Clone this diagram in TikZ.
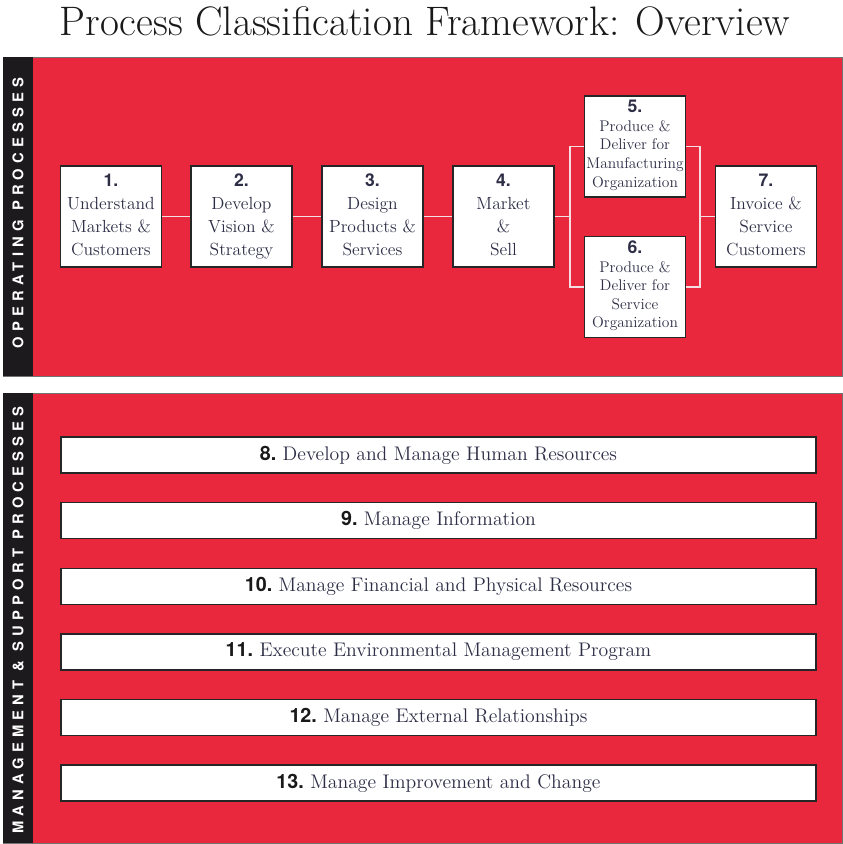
\documentclass[tikz,border=0pt]{standalone}
\usepackage{fontspec}
\newfontfamily\numfont{TeX Gyre Heros}
\newfontfamily\sidefont[LetterSpace=35]{TeX Gyre Heros}
\usetikzlibrary{positioning}

\definecolor{pcfred}{RGB}{233,40,62}
\definecolor{stripgray}{RGB}{28,26,28}
\definecolor{boxtext}{RGB}{45,45,70}
\definecolor{linkwhite}{RGB}{245,222,226}

\begin{document}
\begin{tikzpicture}[x=0.025cm,y=-0.025cm,
      panel/.style={draw=black!55,fill=pcfred,line width=0.6pt},
      strip/.style={fill=stripgray},
      side/.style={rotate=90,text=white,font=\sidefont\bfseries\fontsize{10.5}{12}\selectfont},
      proc/.style={draw=black!85,fill=white,line width=1pt,minimum width=2.525cm,minimum height=2.525cm,inner sep=0pt,align=center,text=boxtext,font=\fontsize{12.5}{16.4}\selectfont,execute at begin node=\rule{0pt}{15.5pt},execute at end node=\vphantom{g}},
      prod/.style={proc,font=\fontsize{11}{13.2}\selectfont,execute at begin node=\strut},
      row/.style={draw=black!85,fill=white,line width=1pt,minimum width=18.875cm,minimum height=0.9cm,inner sep=0pt,text=boxtext,font=\fontsize{14}{16}\selectfont},
      link/.style={draw=linkwhite,line width=1.2pt},
  ]
  \useasboundingbox (0,0) rectangle (843,844);

  % Title
  \node[text=black!90,font=\fontsize{29.3}{34}\selectfont] (title) at (425,21) {Process Classification Framework: Overview};

  % Operating panel
  \draw[panel] (3,57) rectangle (842.5,376);
  \fill[strip] (3.3,57.3) rectangle (33,375.7);
  \node[side] (oplabel) at (18,213) {OPERATING PROCESSES};

  % Support panel
  \draw[panel] (3,393) rectangle (842.5,843);
  \fill[strip] (3.3,393.3) rectangle (33,842.7);
  \node[side] (mslabel) at (18,620) {MANAGEMENT \& SUPPORT PROCESSES};

  % operating boxes
  \node[proc] (b1) at (111,216.5) {{\numfont\bfseries 1.}\\Understand\\Markets \&\\Customers};
  \node[proc] (b2) at (241.5,216.5) {{\numfont\bfseries 2.}\\Develop\\Vision \&\\Strategy};
  \node[proc] (b3) at (372.5,216.5) {{\numfont\bfseries 3.}\\Design\\Products \&\\Services};
  \node[proc] (b4) at (503.5,216.5) {{\numfont\bfseries 4.}\\Market\\\&\\Sell};
  \node[prod] (b5) at (635,146.5) {{\numfont\bfseries\fontsize{12.5}{14}\selectfont 5.}\\Produce \&\\Deliver for\\Manufacturing\\Organization};
  \node[prod] (b6) at (635,287) {{\numfont\bfseries\fontsize{12.5}{14}\selectfont 6.}\\Produce \&\\Deliver for\\Service\\Organization};
  \node[proc] (b7) at (766,216.5) {{\numfont\bfseries 7.}\\Invoice \&\\Service\\Customers};

  % links
  \coordinate (forkL) at (570,216.5);
  \coordinate (forkR) at (700,216.5);
  \draw[link] (b1) -- (b2);
  \draw[link] (b2) -- (b3);
  \draw[link] (b3) -- (b4);
  \draw[link] (b4) -- (forkL);
  \draw[link] (b5.west) -| (forkL) |- (b6.west);
  \draw[link] (b5.east) -| (forkR) |- (b6.east);
  \draw[link] (forkR) -- (b7);

  % support rows
  \foreach \n/\txt [count=\i from 0] in {8/Develop and Manage Human Resources,
      9/Manage Information,
      10/Manage Financial and Physical Resources,
      11/Execute Environmental Management Program,
      12/Manage External Relationships,
      13/Manage Improvement and Change}
    \node[row] (r\n) at (438.5,455+\i*65.6) {{\numfont\bfseries\color{black!90}\n.}\ \txt};
\end{tikzpicture}
\end{document}
